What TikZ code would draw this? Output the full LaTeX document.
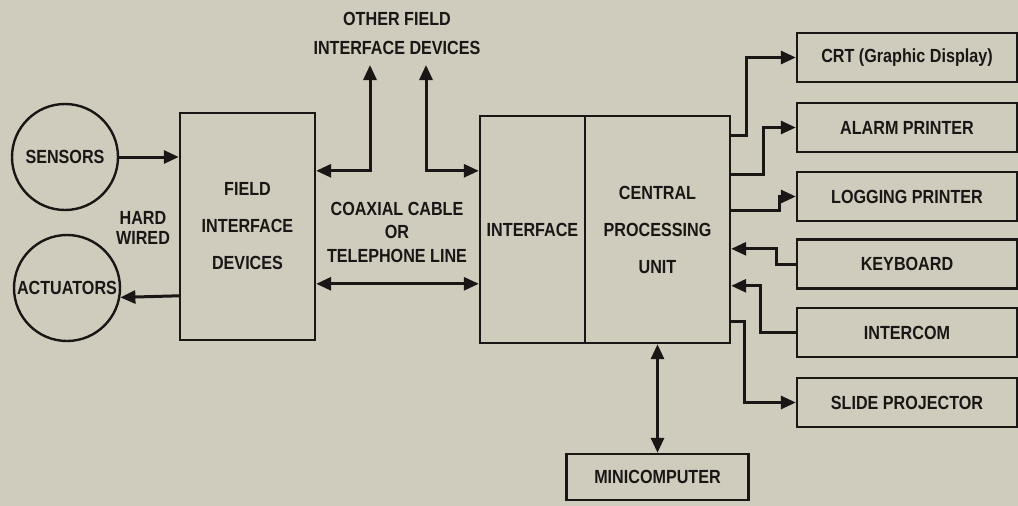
\documentclass[tikz,border=0pt]{standalone}
\usepackage{fontspec}
\setmainfont{Liberation Sans}[FakeStretch=0.85]
\definecolor{plbg}{RGB}{207,203,189}
\definecolor{plink}{RGB}{26,22,22}
\usetikzlibrary{arrows.meta,positioning,calc}
\tikzset{
  blk/.style={rectangle,draw=plink,line width=2.4pt,fill=plbg,inner sep=3pt,
              text=plink,align=center,font=\bfseries\fontsize{19}{37}\selectfont},
  dev/.style={blk,minimum width=220pt,minimum height=49pt},
  disc/.style={circle,draw=plink,line width=2.4pt,fill=plbg,text=plink,
               minimum size=106pt,inner sep=0pt,
               font=\bfseries\fontsize{19}{22}\selectfont},
  lbl/.style={text=plink,align=center,font=\bfseries\fontsize{19}{#1}\selectfont},
  lbl/.default=22,
  arr/.style={-{Triangle[length=15pt,width=13pt]},line width=3pt,draw=plink},
  dbl/.style={{Triangle[length=15pt,width=13pt]}-{Triangle[length=15pt,width=13pt]},
              line width=3pt,draw=plink},
}
\begin{document}
\begin{tikzpicture}[x=1pt,y=-1pt]

  \fill[plbg] (0,0) rectangle (1018,506);
  \useasboundingbox (0,0) rectangle (1018,506);

  %% Field side
  \node[disc] (sensors) at (65,157) {SENSORS};
  \node[disc] (actuators) at (67,288) {ACTUATORS};
  \node[blk,minimum width=135pt,minimum height=227pt]
    (fid) at (247.5,226.5) {FIELD\\INTERFACE\\DEVICES};
  \node[lbl=20] (hard) at (143,228) {HARD\\WIRED};

  \draw[arr] (sensors.east) -- (fid.west |- sensors.east);
  \draw[arr] ([yshift=-184pt]fid.north west) -- (actuators.-10);

  %% Computer side
  \node[blk,minimum width=105pt,minimum height=227pt]
    (iface) at (532.5,229.5) {INTERFACE};
  \node[blk,minimum width=145pt,minimum height=227pt]
    (cpu) at (657.5,229.5) {CENTRAL\\PROCESSING\\UNIT};
  \node[blk,minimum width=182pt,minimum height=46pt]
    (mini) at (657.5,477) {MINICOMPUTER};
  \draw[dbl] (cpu.south) -- (mini.north);

  %% Link between the two
  \node[lbl=29] (other) at (397,33) {OTHER FIELD\\INTERFACE DEVICES};
  \coordinate (ofl) at (370,65);
  \coordinate (ofr) at (426,65);
  \draw[dbl] (ofl) |- ([yshift=-59pt]fid.north east);
  \draw[dbl] (ofr) |- ([yshift=-56pt]iface.north west);

  \node[lbl=23.5] (coax) at (397,232) {COAXIAL CABLE\\OR\\TELEPHONE LINE};
  \draw[dbl] ([yshift=-172pt]fid.north east) -- ([yshift=-169pt]iface.north west);

  %% Peripherals
  \foreach \name/\y/\txt in {
    crt/      57.5/CRT (Graphic Display),
    alarm/   127.5/ALARM PRINTER,
    logging/ 196.5/LOGGING PRINTER,
    keyboard/264/KEYBOARD,
    intercom/332.5/INTERCOM,
    slide/   402.5/SLIDE PROJECTOR}{
    \node[dev] (\name) at (907,\y) {\txt};
  }

  \foreach \dev/\dy/\dx in {crt/21/15, alarm/60/32, logging/96/48, slide/207/13}
    \draw[arr] ([yshift=-\dy pt]cpu.north east) -- ++(\dx,0) |- (\dev.west);
  \foreach \dev/\dy/\dx in {keyboard/134/19, intercom/171/35}
    \draw[arr] (\dev.west) -- ++(-\dx,0) |- ([yshift=-\dy pt]cpu.north east);

\end{tikzpicture}
\end{document}
